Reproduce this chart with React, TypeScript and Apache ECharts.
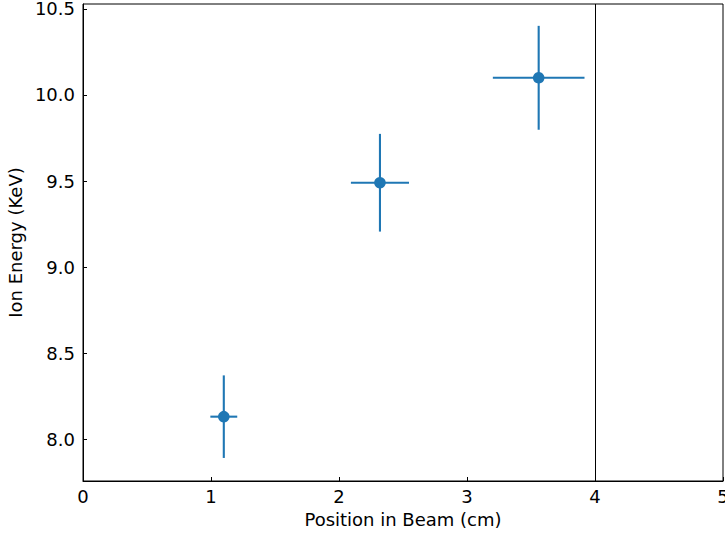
import React, { useEffect, useRef } from "react";
import * as echarts from "echarts";

const xValues = [1.1, 2.32, 3.56];
const yValues = [8.13, 9.49, 10.1];
const xErrors = [0.105, 0.227, 0.358];
const yErrors = [0.24, 0.284, 0.302];
const yTicks = [8.0, 8.5, 9.0, 9.5, 10.0, 10.5];
const xTicks = [0, 1, 2, 3, 4, 5];
const vLineX = 4;

const BLUE = "#1f77b4";
const FONT = "DejaVu Sans";

export default function App() {
  const ref = useRef<HTMLDivElement>(null);
  useEffect(() => {
    if (!ref.current) return;
    const chart = echarts.init(ref.current, undefined, { renderer: "svg" });
    const data = xValues.map((x, i) => [x, yValues[i], xErrors[i], yErrors[i]]);
    chart.setOption({
      animation: false,
      backgroundColor: "#fff",
      grid: {
        left: 83,
        right: 2,
        top: 4,
        bottom: 54,
        show: true,
        borderColor: "#000",
        borderWidth: 1,
        backgroundColor: "transparent",
        containLabel: false,
        outerBoundsMode: "none",
      },
      xAxis: {
        type: "value",
        min: 0,
        max: 5,
        interval: 1,
        name: "Position in Beam (cm)",
        nameLocation: "middle",
        nameGap: 29,
        nameTextStyle: { fontFamily: FONT, fontSize: 18, color: "#000" },
        axisLine: { show: true, lineStyle: { color: "#000", width: 1 } },
        axisTick: { show: true, inside: true, length: 4, lineStyle: { color: "#000" }, customValues: xTicks },
        axisLabel: {
          fontFamily: FONT,
          fontSize: 18,
          color: "#000",
          margin: 6,
          customValues: xTicks,
          formatter: (v: number) => String(v),
        },
        splitLine: { show: false },
      },
      yAxis: {
        type: "value",
        min: 7.756,
        max: 10.529,
        name: "Ion Energy (KeV)",
        nameLocation: "middle",
        nameGap: 58,
        nameTextStyle: { fontFamily: FONT, fontSize: 18, color: "#000" },
        axisLine: { show: true, lineStyle: { color: "#000", width: 1 } },
        axisTick: { show: true, inside: true, length: 4, lineStyle: { color: "#000" }, customValues: yTicks },
        axisLabel: {
          fontFamily: FONT,
          fontSize: 18,
          color: "#000",
          margin: 8,
          customValues: yTicks,
          formatter: (v: number) => v.toFixed(1),
        },
        splitLine: { show: false },
      },
      series: [
        {
          type: "custom",
          data,
          encode: { x: 0, y: 1 },
          renderItem: (params: any, api: any) => {
            const x = api.value(0);
            const y = api.value(1);
            const xe = api.value(2);
            const ye = api.value(3);
            const c = api.coord([x, y]);
            const l = api.coord([x - xe, y]);
            const r = api.coord([x + xe, y]);
            const t = api.coord([x, y + ye]);
            const b = api.coord([x, y - ye]);
            const st = { stroke: BLUE, lineWidth: 2.1 };
            return {
              type: "group",
              children: [
                { type: "line", shape: { x1: l[0], y1: l[1], x2: r[0], y2: r[1] }, style: st },
                { type: "line", shape: { x1: t[0], y1: t[1], x2: b[0], y2: b[1] }, style: st },
                { type: "circle", shape: { cx: c[0], cy: c[1], r: 5.8 }, style: { fill: BLUE } },
              ],
            };
          },
          markLine: {
            silent: true,
            symbol: ["none", "none"],
            label: { show: false },
            lineStyle: { color: "#000", width: 1, type: "solid" },
            data: [{ xAxis: vLineX }],
          },
        },
      ],
    });
    return () => chart.dispose();
  }, []);
  return (
    <div
      ref={ref}
      style={{ position: "fixed", left: 0, top: 0, width: 725, height: 535 }}
    />
  );
}
